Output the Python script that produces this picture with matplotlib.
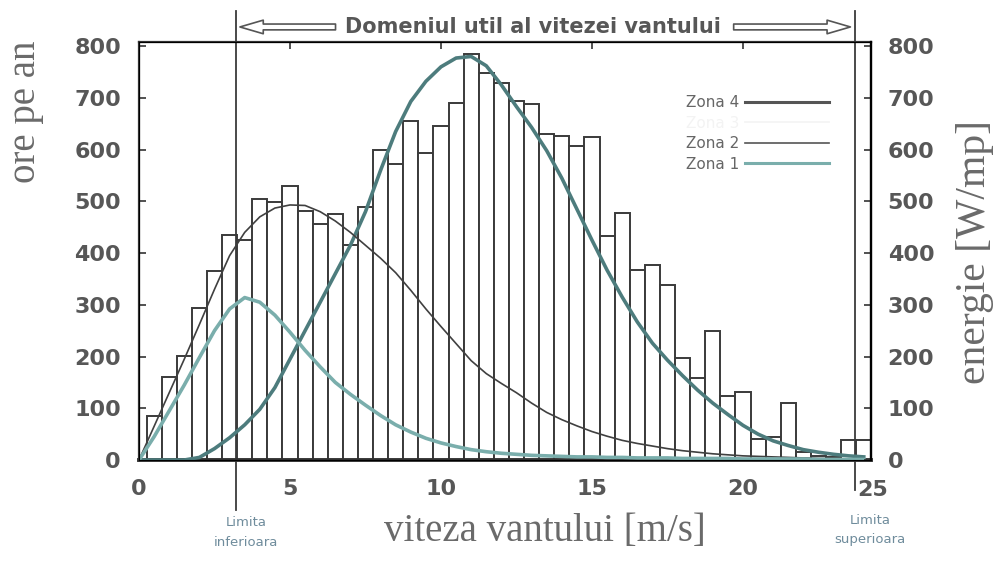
import numpy as np
import matplotlib.pyplot as plt
import matplotlib.transforms as mtransforms
from matplotlib.lines import Line2D

# histogram: hours per year for each 0.5 m/s wind speed class
speeds = [0.5, 1.0, 1.5, 2.0, 2.5, 3.0, 3.5, 4.0, 4.5, 5.0, 5.5, 6.0,
          6.5, 7.0, 7.5, 8.0, 8.5, 9.0, 9.5, 10.0, 10.5, 11.0, 11.5, 12.0,
          12.5, 13.0, 13.5, 14.0, 14.5, 15.0, 15.5, 16.0, 16.5, 17.0, 17.5, 18.0,
          18.5, 19.0, 19.5, 20.0, 20.5, 21.0, 21.5, 22.0, 22.5, 23.0, 23.5, 24.0]
hours = [85, 160, 202, 293, 366, 435, 425, 504, 498, 530, 481, 457,
         476, 415, 490, 600, 573, 655, 593, 645, 691, 785, 748, 728,
         693, 688, 630, 626, 607, 624, 433, 478, 368, 376, 339, 198,
         159, 250, 123, 132, 40, 45, 110, 15, 8, 5, 38, 38]

# energy curves (W/mp)
curve_x = [0, 0.5, 1.0, 1.5, 2.0, 2.5, 3.0, 3.5, 4.0, 4.5, 5.0, 5.5, 6.0,
           6.5, 7.0, 7.5, 8.0, 8.5, 9.0, 9.5, 10.0, 10.5, 11.0, 11.5, 12.0,
           12.5, 13.0, 13.5, 14.0, 14.5, 15.0, 15.5, 16.0, 16.5, 17.0, 17.5, 18.0,
           18.5, 19.0, 19.5, 20.0, 20.5, 21.0, 21.5, 22.0, 22.5, 23.0, 23.5, 24.0]
zona4 = [0, 0, 0, 0, 5, 22, 43, 68, 98, 140, 195, 250, 305,
         360, 415, 480, 560, 635, 693, 732, 760, 777, 780, 762, 725,
         683, 643, 598, 545, 485, 425, 367, 315, 267, 226, 193, 163,
         135, 110, 88, 67, 50, 37, 28, 20, 15, 11, 8, 6]
zona2 = [0, 65, 130, 195, 262, 330, 395, 440, 470, 487, 493, 492, 480,
         462, 440, 415, 390, 362, 328, 292, 258, 225, 192, 167, 148,
         130, 110, 92, 78, 66, 55, 46, 38, 32, 27, 22, 18,
         15, 12, 10, 8, 7, 6, 5, 4, 3, 3, 2, 2]
zona1 = [0, 45, 95, 145, 198, 250, 292, 314, 305, 280, 247, 212, 180,
         150, 127, 106, 86, 68, 54, 42, 33, 26, 20, 16, 13,
         11, 9, 8, 7, 6, 6, 5, 5, 4, 4, 4, 3,
         3, 3, 3, 2, 2, 2, 2, 2, 1, 1, 1, 1]

y_ticks = [0, 100, 200, 300, 400, 500, 600, 700, 800]
x_ticks = [0, 5, 10, 15, 20]
lim_low = 3.2
lim_high = 23.7

gray = '#575757'
tick_font = dict(family='DejaVu Sans', weight='bold', size=16, color=gray)

fig = plt.figure(figsize=(9.97, 5.62), dpi=100)
ax = fig.add_axes([139 / 997, 1 - 460 / 562, 732 / 997, 418 / 562])

ax.bar(speeds, hours, width=0.5, color='white', edgecolor='#3a3a3a',
       linewidth=1.4, zorder=2)
ax.plot(curve_x, zona4, color='#4d7c7d', lw=2.6, zorder=4)
ax.plot(curve_x, zona2, color='#404040', lw=1.2, zorder=4)
ax.plot(curve_x, zona1, color='#7aaeac', lw=2.6, zorder=4)

ax.set_xlim(0, 24.24)
ax.set_ylim(0, 808)
ax.set_xticks(x_ticks)
ax.set_yticks(y_ticks)
ax.tick_params(direction='in', top=True, length=5, width=1.2, color='#333')
ax.tick_params(axis='y', pad=13)
ax.tick_params(axis='x', pad=14)
for lab in ax.get_xticklabels() + ax.get_yticklabels():
    lab.set(**tick_font)
for side in ['left', 'right', 'top']:
    ax.spines[side].set_linewidth(1.6)
    ax.spines[side].set_color('#333')
ax.spines['bottom'].set_linewidth(2.8)
ax.spines['bottom'].set_color('#333')

ax2 = ax.twinx()
ax2.set_ylim(0, 808)
ax2.set_yticks(y_ticks)
ax2.tick_params(direction='in', length=5, width=1.2, color='#333', pad=12)
for lab in ax2.get_yticklabels():
    lab.set(**tick_font)
ax2.spines['right'].set_linewidth(1.6)

# useful wind speed domain
trans = mtransforms.blended_transform_factory(ax.transData, ax.transAxes)
ax.plot([lim_low, lim_low], [-0.12, 1.075], transform=trans, clip_on=False,
        color='#3a3a3a', lw=1.3)
ax.plot([lim_high, lim_high], [-0.072, 1.075], transform=trans, clip_on=False,
        color='#3a3a3a', lw=1.3)
ax.text(23.8, -0.072, '25', transform=trans, ha='left', va='center', **tick_font)

arrow = dict(arrowstyle='simple,head_width=0.7,head_length=1.2,tail_width=0.3',
             fc='white', ec='#555', lw=1.2, mutation_scale=14)
ax.annotate('', xy=(lim_low + 0.05, 1.036), xytext=(6.6, 1.036), xycoords=trans,
            textcoords=trans, arrowprops=arrow, annotation_clip=False)
ax.annotate('', xy=(lim_high - 0.05, 1.036), xytext=(19.6, 1.036), xycoords=trans,
            textcoords=trans, arrowprops=arrow, annotation_clip=False)
ax.text(13.05, 1.036, 'Domeniul util al vitezei vantului', transform=trans,
        ha='center', va='center', family='DejaVu Sans', weight='bold', size=15,
        color=gray)

# legend
handles = [Line2D([], [], color='#555', lw=2.2),
           Line2D([], [], color='#f3f3f3', lw=1.2),
           Line2D([], [], color='#555', lw=1.2),
           Line2D([], [], color='#7aaeac', lw=2.2)]
leg = ax.legend(handles, ['Zona 4', 'Zona 3', 'Zona 2', 'Zona 1'], loc='upper right',
                bbox_to_anchor=(0.962, 0.905), frameon=False, markerfirst=False,
                handlelength=5.5, handletextpad=0.4, labelspacing=0.35,
                prop=dict(family='DejaVu Sans', size=11))
for t, c in zip(leg.get_texts(), ['#666', '#f3f3f3', '#666', '#666']):
    t.set_color(c)

serif = dict(family='Liberation Serif', color='#6a6a6a')
fig.text(25 / 997, 1 - 112 / 562, 'ore pe an', rotation=90, ha='center',
         va='center', size=28, **serif)
fig.text(975 / 997, 1 - 252 / 562, 'energie [W/mp]', rotation=90, ha='center',
         va='center', size=30, **serif)
fig.text(545 / 997, 1 - 532 / 562, 'viteza vantului [m/s]', ha='center',
         va='center', size=28, **serif)

lim_font = dict(family='DejaVu Sans', size=9.5, color='#6f8c9c', ha='center',
                va='center', linespacing=1.7)
fig.text(246 / 997, 1 - 532 / 562, 'Limita\ninferioara', **lim_font)
fig.text(870 / 997, 1 - 530 / 562, 'Limita\nsuperioara', **lim_font)

fig.savefig('out.png', dpi=100)
